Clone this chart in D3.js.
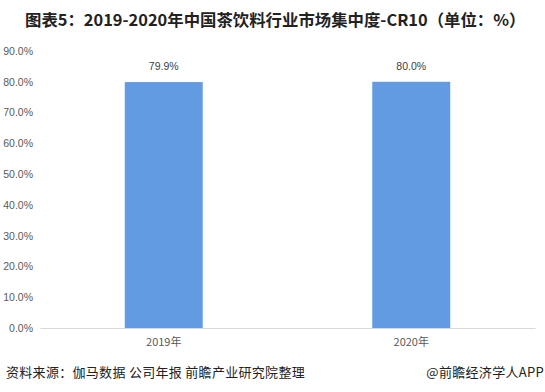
<!DOCTYPE html>
<html><head><meta charset="utf-8">
<script src="https://cdn.jsdelivr.net/npm/d3@7"></script>
<style>body{margin:0;background:#fff}svg{display:block}</style>
</head><body>
<script>
const categories = ["2019年", "2020年"];
const values = [79.9, 80.0];
const valueLabels = ["79.9%", "80.0%"];
const yTicks = [0, 10, 20, 30, 40, 50, 60, 70, 80, 90];
const title = "图表5：2019-2020年中国茶饮料行业市场集中度-CR10（单位：%）";
const source = "资料来源：伽马数据 公司年报 前瞻产业研究院整理";
const brand = "@前瞻经济学人APP";

const W = 545, H = 392;
const svg = d3.select("body").append("svg").attr("width", W).attr("height", H);
const font = "'Noto Sans CJK SC', 'Noto Sans', sans-serif";

svg.append("text").attr("x", 25).attr("y", 26).text(title)
  .attr("font-family", font).attr("font-weight", "bold").attr("font-size", 16.4).attr("fill", "#222");

const x = d3.scaleBand().domain(categories).range([40, 535]).paddingInner(0.685).paddingOuter(0.3425);
const y = d3.scaleLinear().domain([0, 90]).range([328, 51]);

const yAxis = svg.append("g").attr("transform", "translate(40,0)")
  .call(d3.axisLeft(y).tickValues(yTicks).tickFormat(d => d.toFixed(1) + "%").tickSize(0).tickPadding(7));
yAxis.select(".domain").remove();
yAxis.selectAll("text").attr("font-family", "'Liberation Sans', Arial, sans-serif").attr("font-size", 10.5).attr("fill", "#595959");

svg.selectAll("rect.bar").data(values).enter().append("rect").attr("class", "bar")
  .attr("x", (d, i) => x(categories[i])).attr("width", x.bandwidth())
  .attr("y", d => y(d)).attr("height", d => y(0) - y(d)).attr("fill", "#639be3");

svg.selectAll("text.vl").data(values).enter().append("text").attr("class", "vl")
  .attr("x", (d, i) => x(categories[i]) + x.bandwidth() / 2).attr("y", d => y(d) - 12)
  .attr("text-anchor", "middle").text((d, i) => valueLabels[i])
  .attr("font-family", "'Liberation Sans', Arial, sans-serif").attr("font-size", 10.5).attr("fill", "#404040");

const xAxis = svg.append("g").attr("transform", "translate(0,328)")
  .call(d3.axisBottom(x).tickSize(0).tickPadding(10));
xAxis.select(".domain").attr("stroke", "#d9d9d9");
xAxis.selectAll("text").attr("font-family", font).attr("font-size", 11).attr("fill", "#595959");

svg.append("text").attr("x", 6).attr("y", 377).text(source)
  .attr("font-family", font).attr("font-size", 13).attr("letter-spacing", 0.3).attr("fill", "#222");
svg.append("text").attr("x", 544).attr("y", 377).attr("text-anchor", "end").text(brand)
  .attr("font-family", font).attr("font-size", 13).attr("letter-spacing", 0.3).attr("fill", "#222");
</script>
</body></html>
